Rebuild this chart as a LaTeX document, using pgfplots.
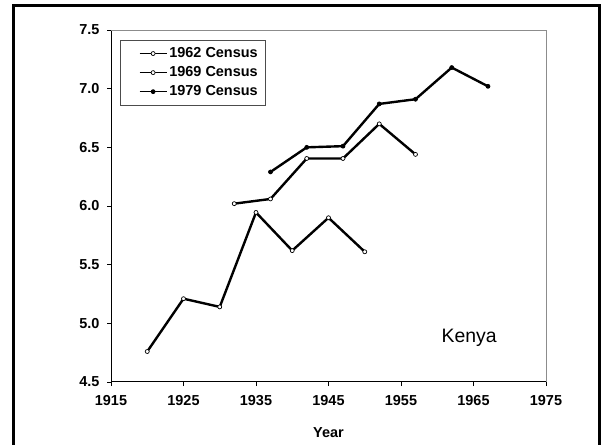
\documentclass[border=0pt]{standalone}
\usepackage{pgfplots}
\pgfplotsset{compat=1.18}
\usepackage{fontspec}
\setmainfont{Liberation Sans}
\newcommand{\tickfont}{\bfseries\fontsize{14.5}{17}\selectfont}
\begin{document}
\begin{tikzpicture}
\useasboundingbox (0bp,0bp) rectangle (602bp,445bp);
\draw[line width=2.8bp] (13.5bp,-10bp) rectangle (599.5bp,439.3bp);
\begin{axis}[
  at={(111bp,63bp)}, anchor=south west,
  scale only axis, width=435bp, height=352bp,
  xmin=1915, xmax=1975, ymin=4.5, ymax=7.5,
  xtick={1915,1925,...,1975}, ytick={4.5,5.0,...,7.5},
  axis x line*=bottom, axis y line*=left,
  axis line style={line width=1bp, -},
  tick align=outside, major tick length=4bp,
  tick style={line width=0.8bp, black},
  /pgf/number format/assume math mode=true,
  xticklabel style={/pgf/number format/1000 sep={}, yshift=-6bp},
  yticklabel style={/pgf/number format/.cd, fixed, fixed zerofill, precision=1, /tikz/xshift=-4bp},
  tick label style={font=\tickfont},
  xlabel={Year}, xlabel style={font=\tickfont, yshift=-15bp},
  legend style={at={(0.0207,0.972)}, anchor=north west, draw=black!70, line width=0.8bp,
    font=\tickfont, inner xsep=6bp, inner ysep=5.5bp, row sep=3.5bp,
    cells={anchor=west}},
  legend image code/.code={\path (0bp,0bp); \draw[mark repeat=2,mark phase=2,#1,line width=1.6bp] plot coordinates {(12bp,0bp) (25.5bp,0bp) (39bp,0bp)};},
  clip=false,
]
\draw[line width=0.8bp, black!45] (rel axis cs:0,1) -- (rel axis cs:1,1) -- (rel axis cs:1,0);
\addplot[line width=2.4bp, mark=*, mark size=2bp, mark options={fill=white, line width=0.7bp}]
  coordinates {(1920,4.76) (1925,5.21) (1930,5.14) (1935,5.945) (1940,5.62) (1945,5.90) (1950,5.61)};
\addplot[line width=2.4bp, mark=*, mark size=2bp, mark options={fill=white, line width=0.7bp}]
  coordinates {(1932,6.02) (1937,6.06) (1942,6.405) (1947,6.405) (1952,6.70) (1957,6.44)};
\addplot[line width=2.4bp, mark=*, mark size=2bp, mark options={fill=black, line width=0.7bp}]
  coordinates {(1937,6.29) (1942,6.50) (1947,6.51) (1952,6.87) (1957,6.91) (1962,7.18) (1967,7.02)};
\legend{1962 Census, 1969 Census, 1979 Census}
\node[font=\fontsize{19.5}{23}\selectfont] at (axis cs:1964.4,4.88) {Kenya};
\end{axis}
\end{tikzpicture}
\end{document}
